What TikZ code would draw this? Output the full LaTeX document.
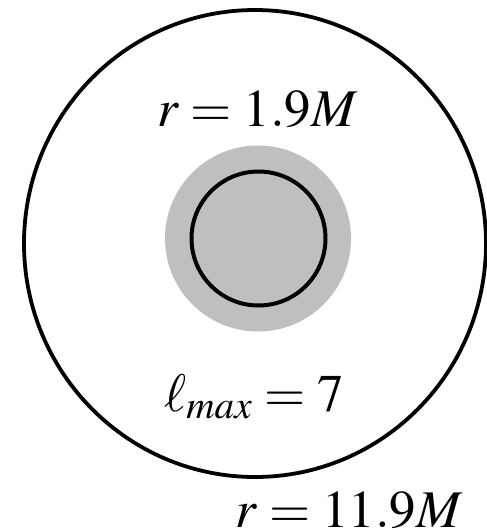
\documentclass[tikz,border=0pt]{standalone}
\usepackage{mathptmx}
\begin{document}
\begin{tikzpicture}[x=1pt,y=-1pt,
  ring/.style={draw=black,line width=3.8pt},
  core/.style={draw=black,line width=4pt},
  halo/.style={fill=black!25},
  lbl/.style={anchor=base,inner sep=0pt,font=\fontsize{53}{60}\selectfont}]
\useasboundingbox (0,0) rectangle (487,530);
\fill[halo] (258,238.5) circle (93);
\draw[ring] (255,243.5) ellipse [x radius=231, y radius=233.5];
\draw[core] (258.5,238.5) circle (67);
\node[lbl] (inner) at (257.5,126) {$r = 1.9M$};
\node[lbl] (lmax) at (254,411) {$\ell_{max} = 7$};
\node[lbl] (outer) at (349,527) {$r = 11.9M$};
\end{tikzpicture}
\end{document}
